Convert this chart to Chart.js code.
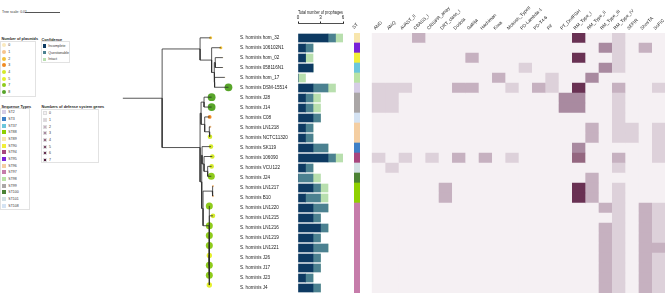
<!DOCTYPE html>
<html>
<head>
<meta charset="utf-8">
<script src="https://cdn.jsdelivr.net/npm/chart.js@4.4.0/dist/chart.umd.min.js"></script>
<style>
  body { margin: 0; width: 669px; height: 294px; background: #fff; position: relative; overflow: hidden;
         font-family: "Liberation Sans", Arial, sans-serif; }
  canvas { position: absolute; top: 0; }
  .box { position: absolute; border: 0.6px solid #e2e2e2; box-sizing: border-box; }
  .ttl { position: absolute; font-size: 3.8px; font-weight: bold; color: #222; white-space: nowrap; }
  .lab { position: absolute; font-size: 3.5px; color: #333; white-space: nowrap; line-height: 4px; }
  .sw { position: absolute; }
</style>
</head>
<body>
<div id="legends"></div>
<canvas id="tree" width="140" height="294" style="left:100px"></canvas>
<canvas id="bars" width="110" height="294" style="left:238px"></canvas>
<canvas id="st" width="30" height="294" style="left:340px"></canvas>
<canvas id="heat" width="301" height="294" style="left:368px"></canvas>
<script>
// ---- data ----
const strains = ["hom_32", "106102N1", "hom_02", "058116N1", "hom_17", "DSM-15514", "J28", "J14", "C08",
  "LN1218", "NCTC11320", "SK119", "106090", "VCU122", "J24", "LN1217", "B10", "LN1220", "LN1215",
  "LN1216", "LN1219", "LN1221", "J26", "J17", "J23", "J4"];

// tree: [node, parent, depth in 1e-3 subst/site]
const treeNodes = [
  ["root", null, 0], ["A", "root", 11.9],
  ["T", "A", 23.4], ["hom_32", "T", 26.6], ["V", "T", 26.9], ["106102N1", "V", 29.7],
  ["T2", "V", 27.7], ["T3", "T2", 28.0], ["hom_02", "T3", 30.3], ["058116N1", "T3", 30.3],
  ["T4", "T2", 27.8], ["hom_17", "T4", 30.9], ["DSM-15514", "T4", 32.0],
  ["B", "A", 23.4], ["B1", "B", 23.7], ["Jn", "B1", 24.6], ["J28", "Jn", 26.9], ["J14", "Jn", 26.9],
  ["C", "B1", 24.8], ["C08", "C", 26.3], ["D", "C", 26.2], ["LN1218", "D", 26.5], ["NCTC11320", "D", 26.4],
  ["B2", "B", 23.9], ["E", "B2", 24.0], ["SK119", "E", 26.7], ["F", "E", 24.6], ["106090", "F", 27.1],
  ["G", "F", 25.7], ["VCU122", "G", 26.9], ["J24", "G", 26.8],
  ["H", "B2", 24.3], ["I", "H", 27.1], ["LN1217", "I", 27.3], ["B10", "I", 27.3],
  ["K", "H", 26.2], ["LN1220", "K", 26.2], ["LN1215", "K", 27.3], ["K2", "K", 26.2],
  ["LN1216", "K2", 26.2], ["LN1219", "K2", 26.2], ["LN1221", "K2", 26.2], ["J26", "K2", 26.2],
  ["J17", "K2", 26.2], ["J23", "K2", 26.2], ["J4", "K2", 26.2]
];

const plasmids = [2, 2, 0, 0, 0, 8, 8, 8, 3, 1, 4, 4, 4, 4, 7, 1, 1, 7, 4, 7, 7, 7, 5, 7, 7, 5];
const plasmidLevels = [0, 1, 2, 3, 4, 5, 7, 8];
const plasmidColors = ["#fbe9bd", "#f6c48d", "#f2c23a", "#f08a22", "#d4e92a", "#e6f02e", "#8fcb1c", "#58a52a"];

const incomplete = [4, 1, 1, 2, 0, 2, 1, 1, 2, 1, 1, 2, 4, 1, 0, 2, 1, 2, 2, 3, 2, 2, 2, 2, 1, 2];
const questionable = [1, 1, 0, 0, 0, 2, 1, 1, 1, 1, 1, 2, 1, 1, 2, 1, 2, 2, 1, 1, 1, 2, 1, 1, 1, 1];
const intact = [1, 0, 1, 0, 1, 1, 1, 1, 0, 0, 0, 0, 1, 0, 1, 1, 1, 0, 0, 0, 0, 0, 0, 0, 0, 0];
const prophageTicks = [0, 3, 6];

const stNames = ["ST2", "ST3", "ST37", "ST88", "ST89", "ST90", "ST94", "ST95", "ST96", "ST97", "ST98", "ST99", "ST100", "ST101", "ST108"];
const stColors = ["#d6cde6", "#3f80c6", "#6cc6dc", "#8fd000", "#f8e6ad", "#f1ef3a", "#a8467e", "#7a22d8", "#f4cea2", "#c67caa", "#b9e3a4", "#aaa6a6", "#4b8234", "#d2e0e4", "#d5e3f3"];
const strainST = ["ST89", "ST95", "ST90", "ST37", "ST98", "ST2", "ST99", "ST99", "ST108", "ST96", "ST96", "ST3",
  "ST94", "ST101", "ST100", "ST88", "ST88", "ST97", "ST97", "ST97", "ST97", "ST97", "ST97", "ST97", "ST97", "ST97"];

const systems = ["AbiD", "AbiQ", "AVAST_II", "CBASS_I", "CRISPR_array", "DRT_class_I", "Dodola", "Gabija",
  "Hachiman", "Kiwa", "Mokosh_TypeII", "PD-Lambda-1", "PD-T4-6", "Pif", "PT_DndFGH", "RM_Type_I",
  "RM_Type_II", "RM_Type_III", "RM_Type_IV", "SEFIR", "ShosTA", "SoFIC"];
const defensePalette = ["#f5f0f3", "#ddd1da", "#c6b1c0", "#a98aa0", "#946780", "#7d4c69", "#693153", "#4e1a3c"];
// rows = strains, columns = systems
const defenseCounts = [
  [0,0,0,2,0,0,0,0,0,0,0,0,0,0,0,6,0,0,1,0,0,0],
  [0,0,0,0,0,0,0,0,0,0,0,0,0,0,0,0,0,3,1,0,2,0],
  [0,0,0,0,0,0,0,2,0,0,0,0,0,0,0,6,0,0,1,0,0,0],
  [0,0,0,0,0,0,0,0,0,0,0,1,0,0,0,0,0,3,1,0,0,0],
  [0,0,0,0,0,0,0,0,0,2,0,0,0,1,0,0,3,0,0,0,0,0],
  [1,1,1,0,0,0,2,2,0,0,1,0,2,1,0,6,0,0,2,0,0,1],
  [1,1,0,0,0,0,0,0,0,0,0,0,0,0,3,3,0,0,1,0,0,0],
  [1,1,0,0,0,0,0,0,0,0,0,0,0,0,3,3,0,0,1,0,0,0],
  [0,0,0,0,0,0,0,0,0,0,0,0,0,0,0,0,0,0,1,0,0,0],
  [0,0,0,0,0,0,0,0,0,0,0,0,0,0,0,0,2,0,1,1,0,1],
  [0,0,0,0,0,0,0,0,0,0,0,0,0,0,0,0,2,0,1,1,0,1],
  [0,0,0,0,0,0,0,0,0,0,0,0,0,0,0,3,0,0,0,0,0,1],
  [1,0,1,0,1,0,2,0,2,0,1,0,0,0,0,4,0,0,2,0,0,1],
  [0,1,0,0,0,0,0,0,0,0,0,0,0,0,0,0,0,0,1,0,0,0],
  [0,0,0,0,0,0,0,0,0,0,0,0,0,0,0,0,2,0,0,0,0,0],
  [0,0,0,0,0,2,0,0,0,0,0,0,0,0,0,6,2,0,1,0,0,0],
  [0,0,0,0,0,2,0,0,0,0,0,0,0,0,0,6,2,0,1,0,0,0],
  [0,0,0,0,0,0,0,0,0,0,0,0,0,0,0,0,0,2,1,0,2,1],
  [0,0,0,0,0,0,0,0,0,0,0,0,0,0,0,0,0,0,1,0,2,1],
  [0,0,0,0,0,0,0,0,0,0,0,0,0,0,0,0,0,2,1,0,2,1],
  [0,0,0,0,0,0,0,0,0,0,0,0,0,0,0,0,0,2,1,0,2,1],
  [0,0,0,0,0,0,0,0,0,0,0,0,0,0,0,0,0,2,1,0,2,2],
  [0,0,0,0,0,0,0,0,0,0,0,0,0,0,0,0,0,2,1,0,2,1],
  [0,0,0,0,0,0,0,0,0,0,0,0,0,0,0,0,0,2,1,0,2,1],
  [0,0,0,0,0,0,0,0,0,0,0,0,0,0,0,0,0,2,1,0,2,1],
  [0,0,0,0,0,0,0,0,0,0,0,0,0,0,0,0,0,2,1,0,2,1]
];

const FONT = "'Liberation Sans', Arial, sans-serif";
Chart.defaults.font.family = FONT;
Chart.defaults.animation = false;
Chart.defaults.responsive = false;
Chart.defaults.plugins.legend.display = false;
Chart.defaults.plugins.tooltip.enabled = false;

// one row = one unit on a reversed linear axis; offset off so rows land on whole pixels
const rowAxis = (min) => ({ type: "linear", display: false, reverse: true, offset: false, min: min, max: 25.5 });

// ---- tree ----
const depth = {}, kids = {};
treeNodes.forEach(([n, p, d]) => { depth[n] = d; if (p) (kids[p] = kids[p] || []).push(n); });
const yPos = {};
function nodeY(n) {
  if (yPos[n] !== undefined) return yPos[n];
  const i = strains.indexOf(n);
  if (i >= 0) return (yPos[n] = i);
  const ys = kids[n].map(nodeY);
  return (yPos[n] = ys.reduce((a, b) => a + b, 0) / ys.length);
}
nodeY("root");

const edgeSets = treeNodes.filter(t => t[1]).map(([n, p]) => ({
  type: "line",
  data: [{ x: depth[p], y: nodeY(p) }, { x: depth[p], y: nodeY(n) }, { x: depth[n], y: nodeY(n) }],
  borderColor: "#2b2b2b", borderWidth: 0.8, pointRadius: 0, clip: false, tension: 0
}));
const tipSet = {
  type: "scatter",
  data: strains.map((s, i) => ({ x: depth[s], y: i })),
  pointRadius: plasmids.map(n => n === 0 ? 0.6 : 0.7 + 0.4 * n),
  backgroundColor: plasmids.map(n => plasmidColors[plasmidLevels.indexOf(n)]),
  borderWidth: 0, clip: false
};
new Chart(document.getElementById("tree"), {
  type: "scatter",
  data: { datasets: [...edgeSets, tipSet] },
  options: {
    layout: { padding: { top: 23, bottom: 1, left: 0, right: 0 } },
    scales: { x: { type: "linear", display: false, min: -20 / 3.5, max: 120 / 3.5 }, y: rowAxis(-1.5) }
  }
});

// ---- prophage stacked bars with strain labels ----
const stackSet = (label, vals, color) => ({
  label, data: vals.map((v, i) => ({ x: v, y: i })), backgroundColor: color, barThickness: 8
});
new Chart(document.getElementById("bars"), {
  type: "bar",
  data: { datasets: [stackSet("Incomplete", incomplete, "#0d3a62"), stackSet("Questionable", questionable, "#4b8190"), stackSet("Intact", intact, "#b8dfae")] },
  options: {
    indexAxis: "y",
    layout: { padding: { top: 0, bottom: 1, left: 2, right: 5 } },
    scales: {
      x: {
        type: "linear", position: "top", stacked: true, min: 0, max: 6,
        afterBuildTicks: s => { s.ticks = prophageTicks.map(v => ({ value: v })); },
        ticks: { font: { size: 4.5 }, color: "#222", padding: 1 },
        title: { display: true, text: "Total number of prophages", font: { size: 4.5 }, color: "#222", padding: { top: 10, bottom: 0 } },
        grid: { drawOnChartArea: false, tickLength: 1.5, color: "#222" },
        border: { color: "#222", width: 0.8 },
        afterFit: s => { s.height = 23; s.paddingLeft = 0; s.paddingRight = 0; }
      },
      y: {
        type: "linear", stacked: true, reverse: true, offset: false, min: -1.5, max: 25.5,
        afterBuildTicks: s => { s.ticks = strains.map((n, i) => ({ value: i })); },
        ticks: { callback: v => "S. hominis " + strains[v], crossAlign: "far", font: { size: 4.6 }, color: "#222", autoSkip: false, padding: 0 },
        grid: { display: false }, border: { display: false },
        afterFit: s => { s.width = 58; s.paddingTop = 0; s.paddingBottom = 0; }
      }
    }
  }
});

// ---- sequence type column ----
new Chart(document.getElementById("st"), {
  type: "bar",
  data: { datasets: [{ data: strainST.map((s, i) => ({ x: 1, y: i })), backgroundColor: strainST.map(s => stColors[stNames.indexOf(s)]), barPercentage: 1, categoryPercentage: 1, borderWidth: 0 }] },
  options: {
    indexAxis: "y",
    layout: { padding: { left: 14, right: 10, top: 0, bottom: 1 } },
    scales: {
      x: { type: "linear", display: false, min: 0, max: 1 },
      xt: {
        type: "category", position: "top", labels: ["ST"], offset: true,
        ticks: { minRotation: 45, maxRotation: 45, font: { size: 4.6 }, color: "#222", padding: 3 },
        grid: { display: false, drawTicks: false }, border: { display: false },
        afterFit: s => { s.height = 33; s.paddingLeft = 0; s.paddingRight = 0; }
      },
      y: rowAxis(-0.5)
    }
  }
});

// ---- defense system heatmap ----
const heatSets = systems.map((name, k) => ({
  label: name,
  data: strains.map((s, i) => ({ x: [k, k + 1], y: i })),
  backgroundColor: strains.map((s, i) => defensePalette[defenseCounts[i][k]]),
  grouped: false, barPercentage: 1, categoryPercentage: 1, borderWidth: 0
}));
new Chart(document.getElementById("heat"), {
  type: "bar",
  data: { datasets: heatSets },
  options: {
    indexAxis: "y",
    layout: { padding: { left: 3.7, right: 4, top: 0, bottom: 1 } },
    scales: {
      x: { type: "linear", display: false, min: 0, max: systems.length },
      xt: {
        type: "category", position: "top", labels: systems, offset: true,
        ticks: { minRotation: 45, maxRotation: 45, autoSkip: false, font: { size: 4.6 }, color: "#222", padding: 2 },
        grid: { display: false, drawTicks: false }, border: { display: false },
        afterFit: s => { s.height = 33; s.paddingLeft = 0; s.paddingRight = 0; }
      },
      y: rowAxis(-0.5)
    }
  }
});

// ---- legends (plain HTML) ----
const L = document.getElementById("legends");
function add(cls, x, y, css, text) {
  const d = document.createElement("div");
  d.className = cls;
  d.style.left = x + "px"; d.style.top = y + "px";
  Object.assign(d.style, css || {});
  if (text !== undefined) d.textContent = text;
  L.appendChild(d);
}
add("lab", 2, 10, { fontSize: "3.5px" }, "Tree scale: 0.01");
add("sw", 25, 12, { width: "35px", height: "0.8px", background: "#555" });

add("box", 0, 40.5, { width: "36px", height: "56px" });
add("ttl", 1.5, 37, {}, "Number of plasmids");
plasmidLevels.forEach((n, i) => {
  const y = 45.3 + 6.67 * i;
  add("sw", 2, y - 2, { width: "4px", height: "4px", borderRadius: "50%", background: plasmidColors[i] });
  add("lab", 8.3, y - 2, {}, String(n));
});

add("box", 40.5, 41.3, { width: "29.5px", height: "22px" });
add("ttl", 41.5, 37.5, {}, "Confidence");
[["Incomplete", "#0d3a62"], ["Questionable", "#4b8190"], ["Intact", "#b8dfae"]].forEach(([t, c], i) => {
  const y = 46 + 6.67 * i;
  add("sw", 42.5, y - 1.8, { width: "3.6px", height: "3.6px", background: c });
  add("lab", 48.3, y - 2, {}, t);
});

add("box", 0, 108.3, { width: "29.5px", height: "101.7px" });
add("ttl", 1.5, 104.5, {}, "Sequence Types");
stNames.forEach((s, i) => {
  const y = 112.3 + 6.67 * i;
  add("sw", 1.7, y - 2, { width: "4px", height: "4px", background: stColors[i] });
  add("lab", 8.3, y - 2, {}, s);
});

add("box", 40.5, 108.7, { width: "58px", height: "54.5px" });
add("ttl", 41.5, 105, {}, "Numbers of defense system genes");
defensePalette.forEach((c, i) => {
  const y = 113.3 + 6.67 * i;
  add("sw", 42.5, y - 2, { width: "4px", height: "4px", background: c, border: "0.4px solid #ddd", boxSizing: "border-box" });
  add("lab", 49, y - 2, {}, String(i));
});
</script>
</body>
</html>
